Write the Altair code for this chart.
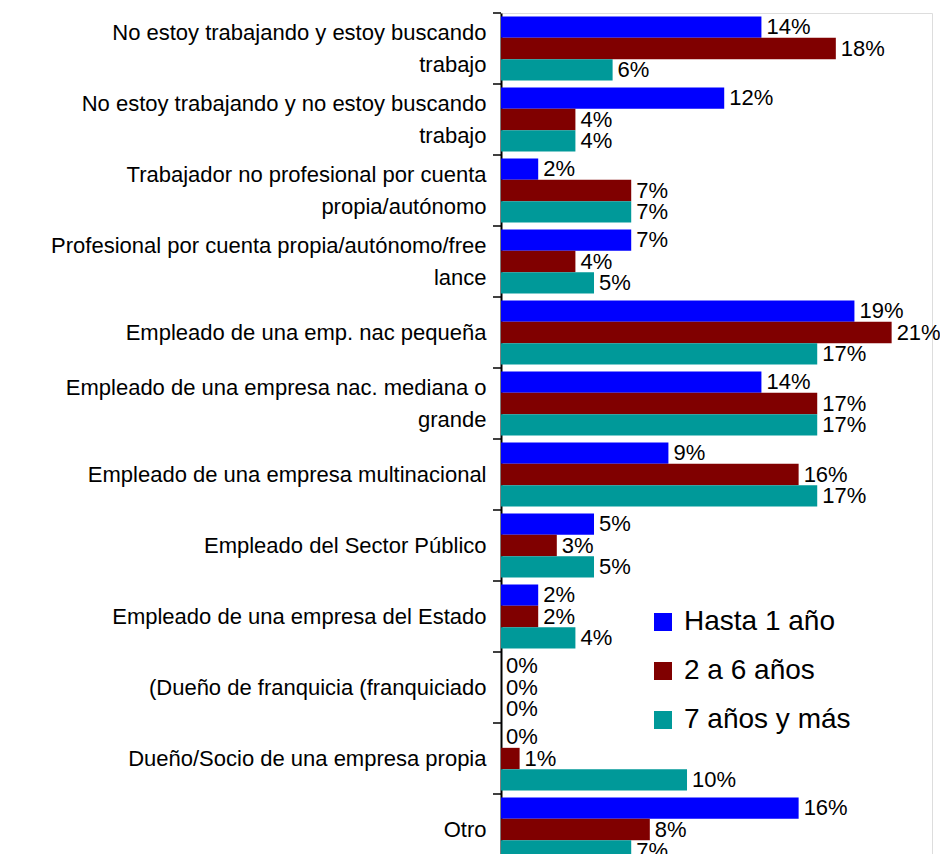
import altair as alt
import pandas as pd

categories = [
    "No estoy trabajando y estoy buscando|trabajo",
    "No estoy trabajando y no estoy buscando|trabajo",
    "Trabajador no profesional por cuenta|propia/autónomo",
    "Profesional por cuenta propia/autónomo/free|lance",
    "Empleado de una emp. nac pequeña",
    "Empleado de una empresa nac. mediana o|grande",
    "Empleado de una empresa multinacional",
    "Empleado del Sector Público",
    "Empleado de una empresa del Estado",
    "(Dueño de franquicia (franquiciado",
    "Dueño/Socio de una empresa propia",
    "Otro",
]
series = ["Hasta 1 año", "2 a 6 años", "7 años y más"]
hasta_1 = [14, 12, 2, 7, 19, 14, 9, 5, 2, 0, 0, 16]
de_2_a_6 = [18, 4, 7, 4, 21, 17, 16, 3, 2, 0, 1, 8]
mas_de_7 = [6, 4, 7, 5, 17, 17, 17, 5, 4, 0, 10, 7]
colors = ["#0000FF", "#800000", "#009999"]

rows = []
for i, c in enumerate(categories):
    for s, vals in zip(series, [hasta_1, de_2_a_6, mas_de_7]):
        rows.append({"cat": c, "serie": s, "v": vals[i], "pct": vals[i] / 100})
df = pd.DataFrame(rows)
sep = pd.DataFrame({"cat": categories})

FONT = "Liberation Sans"

# the category band runs slightly past the visible area, as in the cropped reference
yscale = alt.Scale(domain=categories, range=[0, 852], paddingInner=0, paddingOuter=0)
yaxis = alt.Axis(
    title=None,
    labelExpr="split(datum.label, '|')",
    labelFont=FONT,
    labelFontSize=22,
    labelColor="black",
    labelLineHeight=32,
    labelPadding=15,
    labelLimit=0,
    labelOffset={"condition": {"test": "indexof(datum.value, '|') >= 0", "value": -16}, "value": 0},
    ticks=False,
    domainColor="black",
    domainWidth=2,
    labelAlign="right",
    labelBaseline="middle",
)
xscale = alt.Scale(domain=[0, 23.17], nice=False, zero=True)

y_enc = alt.Y("cat:N", sort=categories, scale=yscale, axis=yaxis)
yoff = alt.YOffset("serie:N", sort=series,
                   scale=alt.Scale(domain=series, paddingInner=0, paddingOuter=0.164))

base = alt.Chart(df)

bars = base.mark_bar().encode(
    y=y_enc,
    yOffset=yoff,
    x=alt.X("v:Q", scale=xscale, axis=None),
    color=alt.Color(
        "serie:N",
        sort=series,
        scale=alt.Scale(domain=series, range=colors),
        legend=alt.Legend(
            orient="none",
            legendX=148,
            legendY=595,
            title=None,
            symbolType="square",
            symbolSize=324,
            symbolStrokeWidth=0,
            labelFontSize=28,
            labelFont=FONT,
            labelColor="black",
            labelLimit=0,
            rowPadding=21,
            labelOffset=7,
            padding=0,
        ),
    ),
)

labels = base.mark_text(
    align="left", baseline="middle", dx=5, font=FONT, fontSize=22, color="black"
).encode(
    y=y_enc,
    yOffset=yoff,
    x=alt.X("v:Q", scale=xscale, axis=None),
    text=alt.Text("pct:Q", format=".0%"),
)

ticks = alt.Chart(sep).mark_rule(color="black", strokeWidth=1.5).encode(
    y=alt.Y("cat:N", sort=categories, scale=yscale, axis=yaxis, bandPosition=0),
    x=alt.value(-8),
    x2=alt.value(0),
)

chart = (
    alt.layer(bars, labels, ticks)
    .properties(
        width=431,
        height=841,
        autosize=alt.AutoSizeParams(type="none"),
        padding={"left": 493, "top": 5, "right": 8, "bottom": 0},
    )
    .configure_view(stroke=None)
    .configure(font=FONT)
)

chart.save("out.html", embed_options={"renderer": "svg", "actions": False})
